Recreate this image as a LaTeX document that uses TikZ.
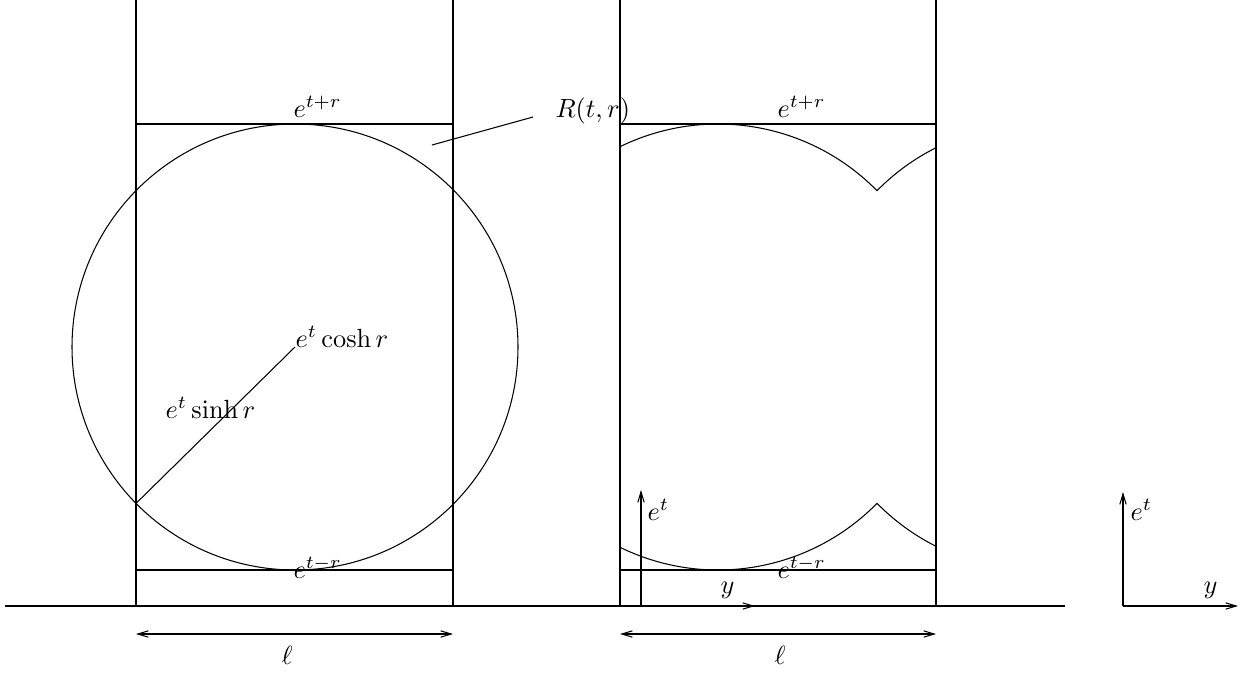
\documentclass[tikz,border=0pt]{standalone}
\usetikzlibrary{arrows.meta}
\begin{document}
\begin{tikzpicture}[x=0.38pt,y=-0.38pt,line width=0.4pt,
  tip/.style={-{Straight Barb[length=4pt,width=2.4pt]}},
  dtip/.style={{Straight Barb[length=4pt,width=2.4pt]}-{Straight Barb[length=4pt,width=2.4pt]}},
  lab/.style={anchor=base west,inner sep=0pt,font=\normalsize},
  clab/.style={anchor=base,inner sep=0pt}]
\useasboundingbox (0,0) rectangle (1244,673);
% ground line
\coordinate (g0) at (5,606);
\coordinate (g1) at (1065,606);
\draw (g0) -- (g1);
% left strip
\coordinate (La) at (136,0); \coordinate (Lb) at (136,606);
\coordinate (Ra) at (453,0); \coordinate (Rb) at (453,606);
\draw (La) -- (Lb); \draw (Ra) -- (Rb);
\coordinate (T1) at (136,124); \coordinate (T2) at (453,124);
\coordinate (B1) at (136,570); \coordinate (B2) at (453,570);
\draw (T1) -- (T2); \draw (B1) -- (B2);
\coordinate (C) at (295,347);
\draw (C) circle[radius=223];
\coordinate (P) at (136,503.4);
\draw (P) -- (C);
\node[lab] (ltop) at (293,117) {$e^{t+r}$};
\node[lab] (lbot) at (293,578) {$e^{t-r}$};
\node[lab] (cosh) at (295,347) {$e^{t}\cosh r$};
\node[lab] (sinh) at (165,418) {$e^{t}\sinh r$};
\node[lab] (R) at (555,117) {$R(t,r)$};
\coordinate (r0) at (432,145); \coordinate (r1) at (533,117);
\draw (r0) -- (r1);
% right strip
\coordinate (La2) at (620,0); \coordinate (Lb2) at (620,606);
\coordinate (Ra2) at (936,0); \coordinate (Rb2) at (936,606);
\draw (La2) -- (Lb2); \draw (Ra2) -- (Rb2);
\coordinate (T3) at (620,124); \coordinate (T4) at (936,124);
\coordinate (B3) at (620,570); \coordinate (B4) at (936,570);
\draw (T3) -- (T4); \draw (B3) -- (B4);
\draw (620,146.7) arc[start angle=-116.07,end angle=-44.51,radius=223]
      arc[start angle=-135.49,end angle=-116.64,radius=223];
\draw (620,547.3) arc[start angle=116.07,end angle=44.51,radius=223]
      arc[start angle=135.49,end angle=116.64,radius=223];
\node[lab] (rtop) at (777,117) {$e^{t+r}$};
\node[lab] (rbot) at (777,578) {$e^{t-r}$};
% middle axes
\coordinate (O1) at (641,606);
\coordinate (Y1) at (641,490);
\coordinate (X1) at (755,606);
\draw[tip] (O1) -- (Y1);
\draw[tip] (O1) -- (X1);
\node[lab] (et1) at (647,520) {$e^{t}$};
\node[lab] (y1) at (720,593) {$y$};
% far right axes
\coordinate (O2) at (1123,606);
\coordinate (Y2) at (1123,492);
\coordinate (X2) at (1238,606);
\draw[tip] (O2) -- (Y2);
\draw[tip] (O2) -- (X2);
\node[lab] (et2) at (1130,520) {$e^{t}$};
\node[lab] (y2) at (1203,593) {$y$};
% width arrows
\coordinate (w1) at (136,634); \coordinate (w2) at (453,634);
\coordinate (w3) at (620,634); \coordinate (w4) at (936,634);
\draw[dtip] (w1) -- (w2);
\draw[dtip] (w3) -- (w4);
\node[clab] (l1) at (287,664) {$\ell$};
\node[clab] (l2) at (780,664) {$\ell$};
\end{tikzpicture}
\end{document}
